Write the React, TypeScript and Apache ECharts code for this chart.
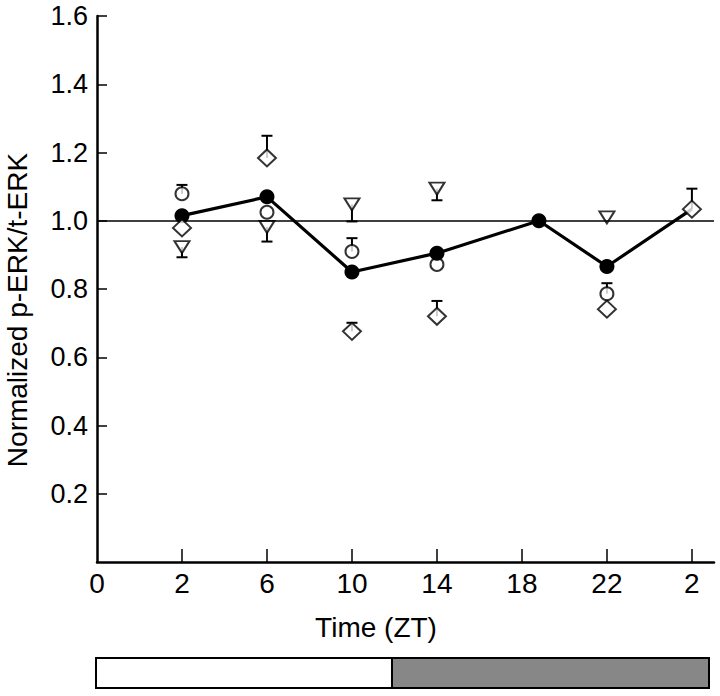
import React, { useEffect, useRef } from "react";
import * as echarts from "echarts";

// Tick labels (evenly spaced categories along the time axis)
const xTickLabels = ["0", "2", "6", "10", "14", "18", "22", "2"];
const yTickValues = [0.2, 0.4, 0.6, 0.8, 1.0, 1.2, 1.4, 1.6];

// Mean (filled circles, connected)
const meanX = [1, 2, 3, 4, 5.2, 6, 7];
const meanY = [1.015, 1.07, 0.85, 0.905, 1.0, 0.866, 1.034];

// Open circles (error bar upward)
const circleX = [1, 2, 3, 4, 6];
const circleY = [1.079, 1.025, 0.91, 0.872, 0.786];
const circleErr = [0.026, 0, 0.039, 0, 0.031];

// Open diamonds (error bar upward)
const diamondX = [1, 2, 3, 4, 6, 7];
const diamondY = [0.979, 1.184, 0.676, 0.72, 0.741, 1.034];
const diamondErr = [0, 0.065, 0.025, 0.045, 0, 0.06];

// Open down-triangles (error bar downward)
const triX = [1, 2, 3, 4, 6];
const triY = [0.923, 0.982, 1.048, 1.094, 1.01];
const triErr = [0.03, 0.043, 0.05, 0.034, 0];

const FONT = "'Liberation Sans', Arial, Helvetica, sans-serif";

function errData(xs: number[], ys: number[], es: number[], dir: number) {
  const out: number[][] = [];
  xs.forEach((x, i) => {
    if (es[i] > 0) out.push([x, ys[i], ys[i] + dir * es[i]]);
  });
  return out;
}

function errRender(params: any, api: any) {
  const x = api.value(0);
  const p0 = api.coord([x, api.value(1)]);
  const p1 = api.coord([x, api.value(2)]);
  const half = 5.5;
  const style = { stroke: "#000", lineWidth: 2 };
  return {
    type: "group",
    children: [
      { type: "line", shape: { x1: p0[0], y1: p0[1], x2: p1[0], y2: p1[1] }, style },
      { type: "line", shape: { x1: p1[0] - half, y1: p1[1], x2: p1[0] + half, y2: p1[1] }, style },
    ],
  };
}

export default function App() {
  const ref = useRef<HTMLDivElement>(null);
  useEffect(() => {
    if (!ref.current) return;
    const chart = echarts.init(ref.current, undefined, { renderer: "svg" });
    const openStyle = { color: "#fff", borderColor: "#000", borderWidth: 2 };
    chart.setOption({
      animation: false,
      backgroundColor: "#fff",
      grid: { left: 97, right: 6, top: 16, bottom: 134 },
      xAxis: {
        type: "value",
        min: 0,
        max: 7.26,
        interval: 1,
        splitLine: { show: false },
        axisLine: { lineStyle: { color: "#000", width: 2.5 } },
        axisTick: {
          inside: true,
          length: 13,
          lineStyle: { color: "#000", width: 1.5 },
          customValues: [1, 2, 3, 4, 5, 6, 7],
        },
        axisLabel: {
          customValues: [0, 1, 2, 3, 4, 5, 6, 7],
          formatter: (v: number) => xTickLabels[Math.round(v)] ?? "",
          color: "#000",
          fontSize: 28,
          fontFamily: FONT,
          margin: 7,
        },
      },
      yAxis: {
        type: "value",
        min: 0,
        max: 1.6,
        interval: 0.2,
        splitLine: { show: false },
        axisLine: { show: true, lineStyle: { color: "#000", width: 2.5 } },
        axisTick: {
          show: true,
          inside: true,
          length: 10,
          lineStyle: { color: "#000", width: 1.5 },
          customValues: yTickValues,
        },
        axisLabel: {
          customValues: yTickValues,
          formatter: (v: number) => v.toFixed(1),
          color: "#000",
          fontSize: 27,
          fontFamily: FONT,
          margin: 9,
        },
      },
      graphic: [
        {
          type: "text",
          x: 376,
          y: 627,
          style: {
            text: "Time (ZT)",
            fill: "#000",
            font: `28px ${FONT}`,
            textAlign: "center",
            textVerticalAlign: "middle",
          },
        },
        {
          type: "text",
          x: 17,
          y: 310,
          rotation: Math.PI / 2,
          style: {
            text: "Normalized p-ERK/t-ERK",
            fill: "#000",
            font: `28px ${FONT}`,
            textAlign: "center",
            textVerticalAlign: "middle",
          },
        },
        {
          type: "rect",
          shape: { x: 96, y: 658, width: 296, height: 30 },
          style: { fill: "#fff", stroke: "#000", lineWidth: 2 },
        },
        {
          type: "rect",
          shape: { x: 392, y: 658, width: 317, height: 30 },
          style: { fill: "#878787", stroke: "#000", lineWidth: 2 },
        },
      ],
      series: [
        {
          type: "custom",
          renderItem: errRender,
          data: errData(circleX, circleY, circleErr, 1),
          z: 1,
          silent: true,
        },
        {
          type: "custom",
          renderItem: errRender,
          data: errData(diamondX, diamondY, diamondErr, 1),
          z: 1,
          silent: true,
        },
        {
          type: "custom",
          renderItem: errRender,
          data: errData(triX, triY, triErr, -1),
          z: 1,
          silent: true,
        },
        {
          type: "line",
          data: meanX.map((x, i) => ({
            value: [x, meanY[i]],
            symbol: i === meanX.length - 1 ? "none" : "circle",
          })),
          symbol: "circle",
          symbolSize: 15,
          showAllSymbol: true,
          itemStyle: { color: "#000" },
          lineStyle: { color: "#000", width: 3.2 },
          z: 4,
          markLine: {
            silent: true,
            symbol: "none",
            label: { show: false },
            lineStyle: { color: "#000", width: 1.5, type: "solid" },
            data: [{ yAxis: 1 }],
          },
        },
        {
          type: "scatter",
          data: circleX.map((x, i) => [x, circleY[i]]),
          symbol: "circle",
          symbolSize: 13,
          itemStyle: openStyle,
          z: 3,
        },
        {
          type: "scatter",
          data: diamondX.map((x, i) => [x, diamondY[i]]),
          symbol: "diamond",
          symbolSize: [18, 17],
          itemStyle: openStyle,
          z: 5,
        },
        {
          type: "scatter",
          data: triX.map((x, i) => [x, triY[i]]),
          symbol: "triangle",
          symbolSize: [15, 12],
          symbolRotate: 180,
          itemStyle: openStyle,
          z: 3,
        },
      ],
    });
    return () => chart.dispose();
  }, []);
  return (
    <div
      ref={ref}
      style={{ position: "fixed", left: 0, top: 0, width: 720, height: 696 }}
    />
  );
}
